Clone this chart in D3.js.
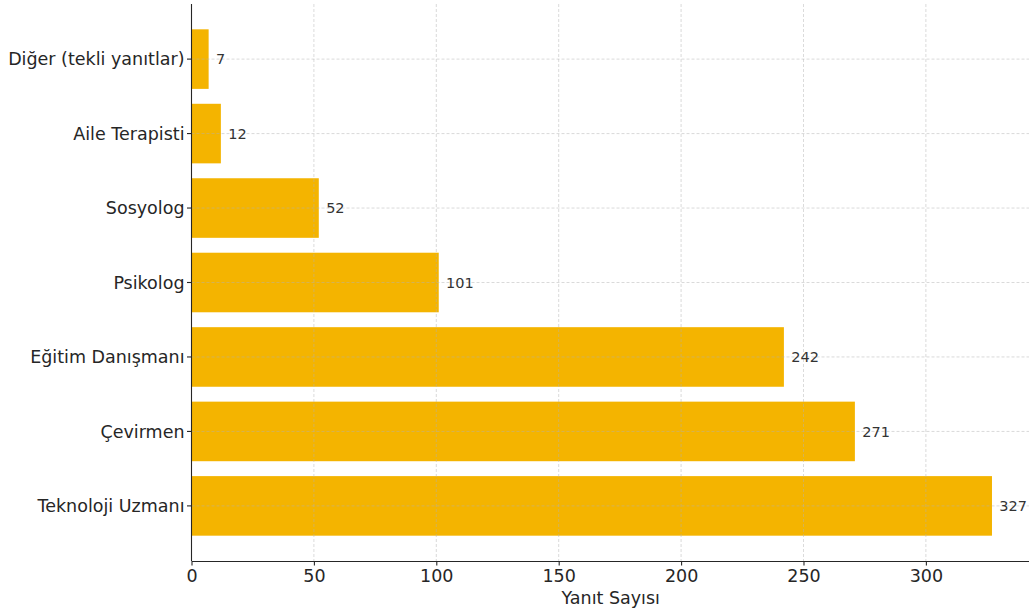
<!DOCTYPE html>
<html>
<head>
<meta charset="utf-8">
<script src="https://cdn.jsdelivr.net/npm/d3@7"></script>
<style>
  html, body { margin: 0; padding: 0; background: #fff; }
  svg { display: block; font-family: "DejaVu Sans", sans-serif; }
</style>
</head>
<body>
<svg id="chart" width="1029" height="614"></svg>
<script>
// Response counts by profession
const categories = [
  "Teknoloji Uzmanı",
  "Çevirmen",
  "Eğitim Danışmanı",
  "Psikolog",
  "Sosyolog",
  "Aile Terapisti",
  "Diğer (tekli yanıtlar)"
];
const counts = [327, 271, 242, 101, 52, 12, 7];
const xTicks = [0, 50, 100, 150, 200, 250, 300];
const xLabel = "Yanıt Sayısı";

const svg = d3.select("#chart");
const plotLeft = 191.5, plotRight = 1032, plotTop = 4, plotBottom = 561;
const barColor = "#F4B400";
const textColor = "#262626";
const labelSize = 17.5;

const x = d3.scaleLinear().domain([0, d3.max(counts) * 1.05]).range([plotLeft, plotRight]);

// Categorical positions: first category at bottom, with small margins
const n = categories.length;
const yIdx = d3.scaleLinear().domain([-0.4 - 0.34, n - 1 + 0.4 + 0.34]).range([plotBottom, plotTop]);
const step = yIdx(0) - yIdx(1);
const barH = step * 0.8;

// Bars
svg.append("g").selectAll("rect")
  .data(categories)
  .join("rect")
  .attr("x", x(0))
  .attr("y", (d, i) => yIdx(i) - barH / 2)
  .attr("width", (d, i) => x(counts[i]) - x(0))
  .attr("height", barH)
  .attr("fill", barColor);

// Grid lines on top of bars
const grid = svg.append("g")
  .attr("stroke", "#b0b0b0")
  .attr("stroke-opacity", 0.6)
  .attr("stroke-width", 0.8)
  .attr("stroke-dasharray", "3,2");
grid.selectAll("line.v")
  .data(xTicks)
  .join("line")
  .attr("class", "v")
  .attr("x1", d => x(d)).attr("x2", d => x(d))
  .attr("y1", plotTop).attr("y2", plotBottom);
grid.selectAll("line.h")
  .data(categories)
  .join("line")
  .attr("class", "h")
  .attr("x1", plotLeft).attr("x2", plotRight)
  .attr("y1", (d, i) => yIdx(i)).attr("y2", (d, i) => yIdx(i));

// Value labels
svg.append("g").selectAll("text")
  .data(categories)
  .join("text")
  .attr("x", (d, i) => x(counts[i] + 3))
  .attr("y", (d, i) => yIdx(i))
  .attr("dy", "0.35em")
  .attr("font-size", 14.5)
  .attr("fill", "#333")
  .text((d, i) => counts[i]);

// X axis
const xAxis = svg.append("g")
  .attr("transform", `translate(0,${plotBottom})`)
  .call(d3.axisBottom(x).tickValues(xTicks).tickSize(4.5).tickPadding(4).tickSizeOuter(0));
xAxis.select(".domain").attr("stroke", textColor).attr("stroke-width", 1.1);
xAxis.selectAll(".tick line").attr("stroke", textColor).attr("stroke-width", 1.1);
xAxis.selectAll(".tick text")
  .attr("font-family", "DejaVu Sans, sans-serif")
  .attr("font-size", labelSize)
  .attr("fill", textColor);

// Y axis
const yAxis = svg.append("g")
  .attr("transform", `translate(${plotLeft},0)`);
yAxis.append("line")
  .attr("x1", 0).attr("x2", 0)
  .attr("y1", plotTop).attr("y2", plotBottom)
  .attr("stroke", textColor).attr("stroke-width", 1.1);
yAxis.selectAll("line.tick")
  .data(categories)
  .join("line")
  .attr("class", "tick")
  .attr("x1", -4.5).attr("x2", 0)
  .attr("y1", (d, i) => yIdx(i)).attr("y2", (d, i) => yIdx(i))
  .attr("stroke", textColor).attr("stroke-width", 1.1);
yAxis.selectAll("text")
  .data(categories)
  .join("text")
  .attr("x", -7)
  .attr("y", (d, i) => yIdx(i))
  .attr("dy", "0.35em")
  .attr("text-anchor", "end")
  .attr("font-size", labelSize)
  .attr("fill", textColor)
  .text(d => d);

// X axis title
svg.append("text")
  .attr("x", (plotLeft + plotRight) / 2 - 1)
  .attr("y", 604)
  .attr("text-anchor", "middle")
  .attr("font-size", labelSize)
  .attr("fill", textColor)
  .text(xLabel);
</script>
</body>
</html>
